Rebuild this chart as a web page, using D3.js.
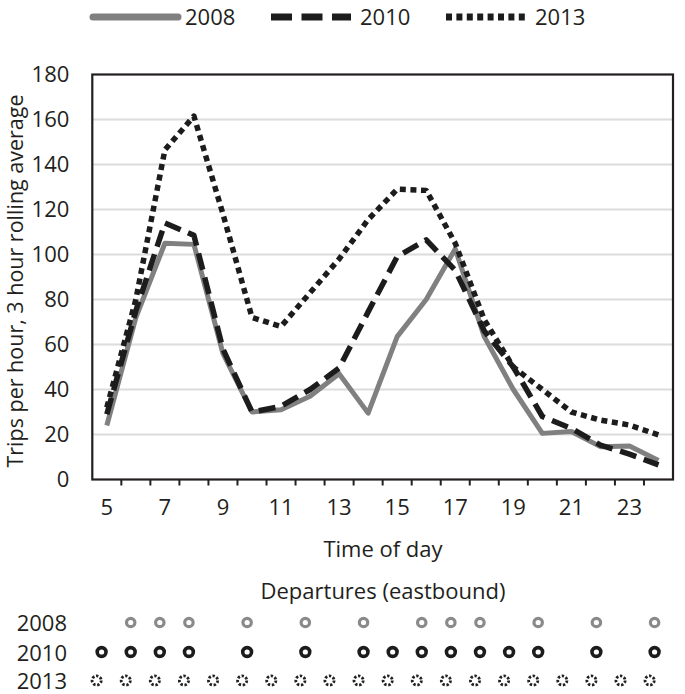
<!DOCTYPE html>
<html>
<head>
<meta charset="utf-8">
<script src="https://cdn.jsdelivr.net/npm/d3@7"></script>
<style>
  body { margin: 0; background: #fff; }
  svg { font-family: "Open Sans", sans-serif; }
</style>
</head>
<body>
<svg id="visualization" width="685" height="694"></svg>
<script>
// hours of day on the x axis
const hours = [5, 6, 7, 8, 9, 10, 11, 12, 13, 14, 15, 16, 17, 18, 19, 20, 21, 22, 23, 24];
const hourLabels = [5, 7, 9, 11, 13, 15, 17, 19, 21, 23];
const yTicks = [0, 20, 40, 60, 80, 100, 120, 140, 160, 180];

// trips per hour, 3 hour rolling average
const trips2008 = [24, 72, 105, 104.5, 56, 30, 31, 37, 47, 29.5, 63.5, 80, 102.5, 63.5, 40, 20.5, 21.3, 14.6, 14.9, 8.5];
const trips2010 = [29, 75, 114, 108.5, 58, 30, 32.5, 40, 49.5, 74.5, 99, 106.5, 93, 66, 50, 28, 22.7, 15.3, 11.3, 6.5];
const trips2013 = [32, 80, 146.5, 161.5, 118, 72, 68, 83, 98, 115.5, 129, 128.5, 105, 71, 50, 40, 30, 26.4, 24.2, 19.8];

// eastbound departures (hour of day)
const departures2008 = [6, 7, 8, 10, 12, 14, 16, 17, 18, 20, 22, 24];
const departures2010 = [5, 6, 7, 8, 10, 12, 14, 15, 16, 17, 18, 19, 20, 22, 24];
const departures2013 = [4.83, 5.83, 6.83, 7.83, 8.83, 9.83, 10.83, 11.83, 12.83, 13.83, 14.83, 15.83, 16.83, 17.83, 18.83, 19.83, 20.83, 21.83, 22.83, 23.83];

const seriesNames = ["2008", "2010", "2013"];

const styles = {
    "2008": { stroke: "#808080", width: 5, dash: null, legendDash: null },
    "2010": { stroke: "#1c1c1c", width: 5.5, dash: "17,8", legendDash: "21,9.5" },
    "2013": { stroke: "#1c1c1c", width: 5.5, dash: "6,4.6", legendDash: "6,4.4" }
};

const svg = d3.select("#visualization");
const textColor = "#231f20";

const margin = { top: 74.5, right: 12, bottom: 214.5, left: 92.3 };
const width = 685 - margin.left - margin.right;
const height = 694 - margin.top - margin.bottom;

const x = d3.scaleBand().domain(hours).range([margin.left, margin.left + width]);
const y = d3.scaleLinear().domain([0, 180]).range([margin.top + height, margin.top]);
const depX = d3.scaleLinear().domain([5, 24]).range([101.6, 654.6]);

// gridlines
svg.append("g")
    .selectAll("line")
    .data(yTicks.filter(t => t > 0 && t < 180))
    .join("line")
    .attr("x1", margin.left)
    .attr("x2", margin.left + width)
    .attr("y1", d => y(d))
    .attr("y2", d => y(d))
    .attr("stroke", "#dcdcdc")
    .attr("stroke-width", 2);

// lines
const series = [
    { name: "2008", values: trips2008 },
    { name: "2010", values: trips2010 },
    { name: "2013", values: trips2013 }
];

const line = d3.line()
    .x((d, i) => x(hours[i]) + x.bandwidth() / 2)
    .y(d => y(d));

svg.append("g")
    .selectAll("path")
    .data(series)
    .join("path")
    .attr("fill", "none")
    .attr("stroke", d => styles[d.name].stroke)
    .attr("stroke-width", d => styles[d.name].width)
    .attr("stroke-dasharray", d => styles[d.name].dash)
    .attr("stroke-linejoin", "round")
    .attr("d", d => line(d.values));

// frame
svg.append("rect")
    .attr("x", margin.left)
    .attr("y", margin.top)
    .attr("width", width)
    .attr("height", height)
    .attr("fill", "none")
    .attr("stroke", "#231f20")
    .attr("stroke-width", 2.2);

// x ticks at band edges
svg.append("g")
    .selectAll("line")
    .data(hours.slice(1))
    .join("line")
    .attr("x1", d => x(d))
    .attr("x2", d => x(d))
    .attr("y1", margin.top + height)
    .attr("y2", margin.top + height + 6)
    .attr("stroke", "#231f20")
    .attr("stroke-width", 2);

// x labels
const xAxis = svg.append("g")
    .attr("transform", `translate(0, ${margin.top + height})`)
    .call(d3.axisBottom(x).tickValues(hourLabels).tickSize(0).tickPadding(20));
xAxis.select(".domain").remove();
xAxis.selectAll("text")
    .attr("font-size", 22)
    .attr("font-family", "Open Sans")
    .attr("fill", textColor);

// y labels
const yAxis = svg.append("g")
    .attr("transform", `translate(${margin.left}, 0)`)
    .call(d3.axisLeft(y).tickValues(yTicks).tickSize(0).tickPadding(23));
yAxis.select(".domain").remove();
yAxis.selectAll("text")
    .attr("font-size", 22)
    .attr("font-family", "Open Sans")
    .attr("fill", textColor);

// axis titles
svg.append("text")
    .attr("x", 383)
    .attr("y", 557)
    .attr("text-anchor", "middle")
    .attr("font-size", 22)
    .attr("fill", textColor)
    .text("Time of day");

svg.append("text")
    .attr("transform", `translate(23, ${margin.top + height / 2 + 4}) rotate(-90)`)
    .attr("text-anchor", "middle")
    .attr("font-size", 21.5)
    .attr("fill", textColor)
    .text("Trips per hour, 3 hour rolling average");

// legend
const legendX = { "2008": 93, "2010": 271, "2013": 446 };
const legendY = 17;
const legend = svg.append("g")
    .selectAll("g")
    .data(seriesNames)
    .join("g")
    .attr("transform", d => `translate(${legendX[d]}, ${legendY})`);
legend.append("line")
    .attr("x1", 0)
    .attr("x2", d => d === "2008" ? 85 : 80)
    .attr("stroke", d => styles[d].stroke)
    .attr("stroke-width", 7)
    .attr("stroke-linecap", d => d === "2008" ? "round" : "butt")
    .attr("stroke-dasharray", d => styles[d].legendDash);
legend.append("text")
    .attr("x", d => d === "2008" ? 92 : 89)
    .attr("y", 8)
    .attr("font-size", 22)
    .attr("fill", textColor)
    .text(d => d);

// departures
svg.append("text")
    .attr("x", 383)
    .attr("y", 599)
    .attr("text-anchor", "middle")
    .attr("font-size", 22)
    .attr("fill", textColor)
    .text("Departures (eastbound)");

const depRows = [
    { name: "2008", values: departures2008, y: 622.5, stroke: "#8a8a8a", width: 3.2, r: 4.2, dash: null },
    { name: "2010", values: departures2010, y: 652, stroke: "#1c1c1c", width: 3.6, r: 4.4, dash: null },
    { name: "2013", values: departures2013, y: 680.5, stroke: "#222", width: 2.8, r: 4.6, dash: "2.4,1.7" }
];

const rows = svg.append("g")
    .selectAll("g")
    .data(depRows)
    .join("g");

rows.append("text")
    .attr("x", 67)
    .attr("y", d => d.y + 8.5)
    .attr("text-anchor", "end")
    .attr("font-size", 22)
    .attr("fill", textColor)
    .text(d => d.name);

rows.selectAll("circle")
    .data(d => d.values.map(v => ({ h: v, row: d })))
    .join("circle")
    .attr("cx", d => depX(d.h))
    .attr("cy", d => d.row.y)
    .attr("r", d => d.row.r)
    .attr("fill", "none")
    .attr("stroke", d => d.row.stroke)
    .attr("stroke-width", d => d.row.width)
    .attr("stroke-dasharray", d => d.row.dash);
</script>
</body>
</html>
